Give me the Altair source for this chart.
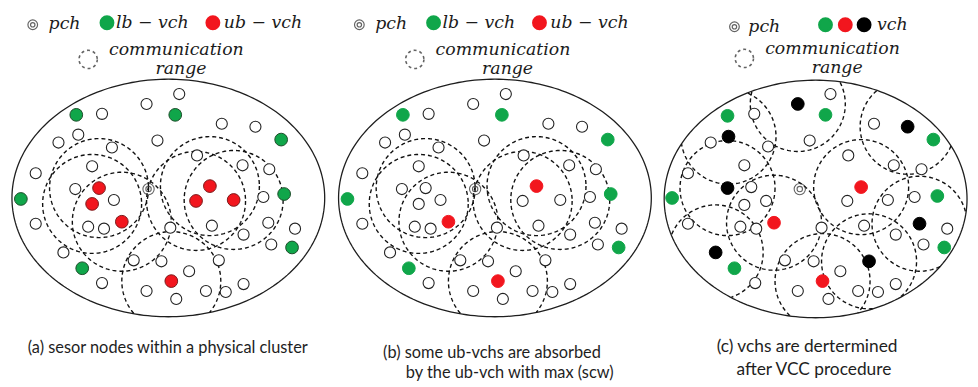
import numpy as np
import pandas as pd
import altair as alt

# ---------------- data (pixel-like coordinates) ----------------
# physical clusters (ellipses): cx, cy, rx, ry
ELLIPSES = {"a": (170, 198, 158, 120), "b": (500, 198, 158, 120), "c": (824, 199, 153, 120)}
SHIFT_B = 330  # panel (b) repeats the node layout of panel (a)

A_WHITE = [(181, 93), (148, 103), (103, 113), (224, 123), (258, 126), (59, 142), (79, 134),
           (159, 140), (113, 147), (199, 155), (93, 166), (36, 173), (245, 165), (272, 169),
           (76, 189), (115, 200), (266, 197), (36, 224), (89, 227), (105, 229), (172, 228),
           (214, 226), (271, 223), (298, 229), (246, 235), (274, 245), (64, 253), (135, 261),
           (163, 262), (221, 261), (191, 272), (103, 284), (148, 292), (178, 300), (208, 292),
           (228, 293), (246, 285)]
A_GREEN = [(77, 114), (177, 114), (284, 139), (21, 199), (287, 194), (295, 248), (83, 269)]
A_RED = [(100, 188), (93, 204), (123, 222), (212, 186), (198, 201), (236, 200), (173, 282)]
A_PCH = [(150, 189)]
A_RANGE_R = 50
# in (b) only these ub-vchs stay red (indices into A_RED); the rest are absorbed
B_KEEP_RED = [2, 3, 6]

C_WHITE = [(839, 93), (762, 113), (718, 142), (776, 146), (818, 140), (883, 123), (752, 165),
           (695, 173), (759, 187), (857, 155), (903, 165), (931, 169), (752, 205), (774, 201),
           (856, 201), (897, 200), (924, 197), (695, 224), (748, 227), (764, 229), (830, 228),
           (873, 226), (905, 235), (957, 229), (933, 245), (793, 261), (822, 262), (849, 272),
           (763, 284), (806, 292), (837, 300), (867, 292), (887, 293), (905, 285)]
C_BLACK = [(806, 103), (736, 136), (917, 126), (735, 188), (929, 224), (723, 253), (878, 262)]
C_GREEN = [(735, 115), (834, 114), (943, 139), (679, 198), (947, 196), (954, 248), (742, 269)]
C_RED = [(870, 187), (782, 223), (831, 282)]
C_PCH = [(808, 189)]
C_RANGE_R = 48

GREEN = "#10a64a"
RED = "#f2161e"
BLACK = "#000000"

# legend items: (panel, symbol kind, x, y)
LEG_SYMBOLS = [
    ("a", "green", 108, 21), ("a", "red", 215, 21),
    ("b", "green", 438, 21), ("b", "red", 545, 21),
    ("c", "green", 834, 23), ("c", "red", 854, 23), ("c", "black", 873, 23),
]
LEG_PCH = [(33, 23), (363, 23), (742, 25)]
LEG_RANGE = [(89, 58), (419, 58), (752, 57)]
LEG_TEXT = [
    ("pch", 49, 22), ("lb \u2212 vch", 117, 21), ("ub \u2212 vch", 226, 21),
    ("communication", 110, 49), ("range", 157, 68),
    ("pch", 379, 22), ("lb \u2212 vch", 447, 21), ("ub \u2212 vch", 556, 21),
    ("communication", 440, 49), ("range", 487, 68),
    ("pch", 756, 25), ("vch", 886, 23),
    ("communication", 773, 48), ("range", 820, 67),
]
# caption: text, x, y, font size
CAPTIONS = [
    ("(a) sesor nodes within a physical cluster", 28, 350, 16.5),
    ("(b) some ub-vchs are absorbed", 387, 355, 16.5),
    ("by the ub-vch with max (scw)", 410, 375, 16.5),
    ("(c) vchs are dertermined", 724, 349, 17.5),
    ("after VCC procedure", 744, 372, 17.5),
]

# ---------------- derived tables ----------------
def ellipse_rows(name, e, n=240):
    cx, cy, rx, ry = e
    t = np.linspace(0, 2 * np.pi, n + 1)
    return [dict(x=cx + rx * np.cos(v), y=cy + ry * np.sin(v), g="ell_" + name, o=i)
            for i, v in enumerate(t)]


def clipped_circle_rows(cid, cx, cy, r, e, n=240):
    ex, ey, erx, ery = e
    t = np.linspace(0, 2 * np.pi, n, endpoint=False)
    xs = cx + r * np.cos(t)
    ys = cy + r * np.sin(t)
    inside = ((xs - ex) / erx) ** 2 + ((ys - ey) / ery) ** 2 <= 1.0
    rows = []
    if inside.all():
        for i in range(n + 1):
            rows.append(dict(x=xs[i % n], y=ys[i % n], g=f"{cid}_0", o=i))
        return rows
    k = int(np.argmin(inside))
    order = [(k + j) % n for j in range(n)]
    seg, cnt = 0, 0
    for idx in order:
        if inside[idx]:
            rows.append(dict(x=xs[idx], y=ys[idx], g=f"{cid}_{seg}", o=cnt))
            cnt += 1
        elif cnt:
            seg += 1
            cnt = 0
    return rows


ell_rows = []
for nm, e in ELLIPSES.items():
    ell_rows += ellipse_rows(nm, e)
ell_df = pd.DataFrame(ell_rows)

circ_rows = []
for i, (x, y) in enumerate(A_RED):
    circ_rows += clipped_circle_rows(f"a{i}", x, y, A_RANGE_R, ELLIPSES["a"])
    circ_rows += clipped_circle_rows(f"b{i}", x + SHIFT_B, y, A_RANGE_R, ELLIPSES["b"])
for i, (x, y) in enumerate(C_BLACK + C_RED):
    circ_rows += clipped_circle_rows(f"c{i}", x, y, C_RANGE_R, ELLIPSES["c"])
circ_df = pd.DataFrame(circ_rows)

white = list(A_WHITE)
white += [(x + SHIFT_B, y) for x, y in A_WHITE]
white += [(x + SHIFT_B, y) for i, (x, y) in enumerate(A_RED) if i not in B_KEEP_RED]
white += C_WHITE
white_df = pd.DataFrame(white, columns=["x", "y"])

col_rows = []
for x, y in A_GREEN:
    col_rows.append(dict(x=x, y=y, f=GREEN, s="#1d4d2b"))
for x, y in A_RED:
    col_rows.append(dict(x=x, y=y, f=RED, s="#7a1a1a"))
for x, y in A_GREEN:
    col_rows.append(dict(x=x + SHIFT_B, y=y, f=GREEN, s=GREEN))
for i in B_KEEP_RED:
    x, y = A_RED[i]
    col_rows.append(dict(x=x + SHIFT_B, y=y, f=RED, s=RED))
for x, y in C_GREEN:
    col_rows.append(dict(x=x, y=y, f=GREEN, s=GREEN))
for x, y in C_RED:
    col_rows.append(dict(x=x, y=y, f=RED, s=RED))
for x, y in C_BLACK:
    col_rows.append(dict(x=x, y=y, f=BLACK, s=BLACK))
col_df = pd.DataFrame(col_rows)

pch_df = pd.DataFrame(A_PCH + [(x + SHIFT_B, y) for x, y in A_PCH] + C_PCH, columns=["x", "y"])

kind_color = {"green": GREEN, "red": RED, "black": BLACK}
leg_sym_df = pd.DataFrame([dict(x=x, y=y, f=kind_color[k]) for _, k, x, y in LEG_SYMBOLS])
leg_pch_df = pd.DataFrame(LEG_PCH, columns=["x", "y"])
leg_range_df = pd.DataFrame(LEG_RANGE, columns=["x", "y"])
leg_text_df = pd.DataFrame(LEG_TEXT, columns=["t", "x", "y"])
cap_df = pd.DataFrame(CAPTIONS, columns=["t", "x", "y", "fs"])

# ---------------- chart ----------------
XS = alt.Scale(domain=[8, 970], nice=False, zero=False)
YS = alt.Scale(domain=[8, 379], nice=False, zero=False, reverse=True)
X = alt.X("x:Q", scale=XS, axis=None)
Y = alt.Y("y:Q", scale=YS, axis=None)

ellipses = alt.Chart(ell_df).mark_line(color="#1e1e1e", strokeWidth=1.3).encode(
    x=X, y=Y, detail="g:N", order="o:Q")
ranges = alt.Chart(circ_df).mark_line(color="#111111", strokeWidth=1.4, strokeDash=[4, 3]).encode(
    x=X, y=Y, detail="g:N", order="o:Q")
whites = alt.Chart(white_df).mark_point(shape="circle", filled=True, fill="white", stroke="#222222",
                                        strokeWidth=1.1, size=125, opacity=1).encode(x=X, y=Y)
colored = alt.Chart(col_df).mark_point(shape="circle", filled=True, size=165, strokeWidth=1,
                                       opacity=1).encode(
    x=X, y=Y, fill=alt.Fill("f:N", scale=None), stroke=alt.Stroke("s:N", scale=None))
pch_outer = alt.Chart(pch_df).mark_point(shape="circle", filled=False, stroke="#222222",
                                         strokeWidth=1.1, size=130).encode(x=X, y=Y)
pch_inner = alt.Chart(pch_df).mark_point(shape="circle", filled=False, stroke="#222222",
                                         strokeWidth=1.1, size=30).encode(x=X, y=Y)

leg_syms = alt.Chart(leg_sym_df).mark_point(shape="circle", filled=True, size=170, opacity=1).encode(
    x=X, y=Y, fill=alt.Fill("f:N", scale=None), stroke=alt.Stroke("f:N", scale=None))
leg_pch_o = alt.Chart(leg_pch_df).mark_point(shape="circle", filled=False, stroke="#222222",
                                             strokeWidth=1.2, size=95).encode(x=X, y=Y)
leg_pch_i = alt.Chart(leg_pch_df).mark_point(shape="circle", filled=False, stroke="#222222",
                                             strokeWidth=1.2, size=20).encode(x=X, y=Y)
leg_rng = alt.Chart(leg_range_df).mark_point(shape="circle", filled=False, stroke="#222222",
                                             strokeWidth=1.6, strokeDash=[3, 3], size=340).encode(x=X, y=Y)
leg_txt = alt.Chart(leg_text_df).mark_text(align="left", baseline="middle", font="DejaVu Serif",
                                           fontStyle="italic", fontSize=17.5, color="#1b1b1b").encode(
    x=X, y=Y, text="t:N")
caps = alt.Chart(cap_df).mark_text(align="left", baseline="middle", font="Lato",
                                   color="#1e1e1e").encode(
    x=X, y=Y, text="t:N", size=alt.Size("fs:Q", scale=None))

chart = alt.layer(
    ellipses, ranges, whites, colored, pch_outer, pch_inner,
    leg_syms, leg_pch_o, leg_pch_i, leg_rng, leg_txt, caps,
).properties(width=962, height=371, padding=0, background="white").configure_view(stroke=None)

chart.save("out.html", embed_options={"renderer": "svg", "actions": False})
